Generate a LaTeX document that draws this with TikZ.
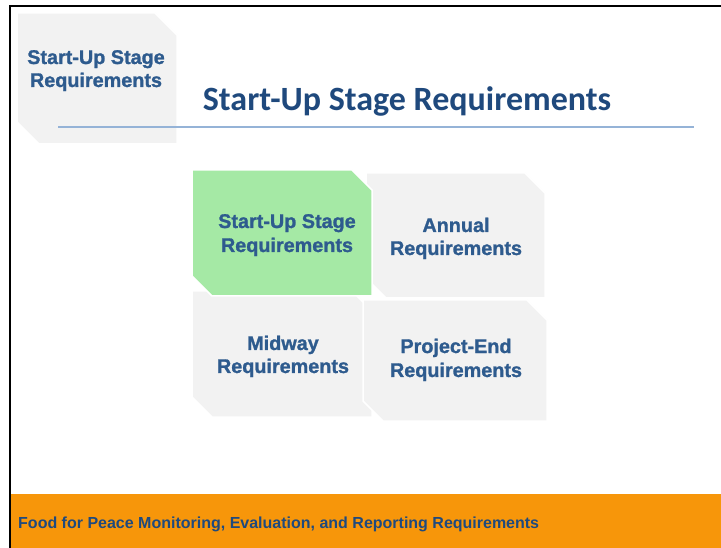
\documentclass[tikz,border=0pt]{standalone}
\usepackage{fontspec}
\newfontfamily\titlefont{Carlito}[BoldFont={Carlito Bold}]
\newfontfamily\boxfont{Liberation Sans}[BoldFeatures={FakeBold=1.2}]
\newfontfamily\footfont{Liberation Sans}
\definecolor{titleblue}{HTML}{1F497D}
\definecolor{boxblue}{HTML}{2E5B8E}
\definecolor{boxgray}{HTML}{F2F2F2}
\definecolor{boxgreen}{HTML}{A5E9A5}
\definecolor{rulecol}{HTML}{95B3D7}
\definecolor{bandorange}{HTML}{F7960A}
\definecolor{footblue}{HTML}{1F4A7E}
\tikzset{
  x=1pt, y=-1pt,
  tile/.style={fill=boxgray, draw=white, line width=1.5pt},
  greentile/.style={fill=boxgreen, draw=white, line width=1.5pt},
  lbl/.style={anchor=base, inner sep=0pt, text=boxblue, font=\boxfont\bfseries\fontsize{19.8}{24}\selectfont},
  titlelbl/.style={anchor=base, inner sep=0pt, text=titleblue, font=\titlefont\bfseries\fontsize{34}{40}\selectfont},
  footlbl/.style={anchor=base west, inner sep=0pt, text=footblue, font=\footfont\bfseries\fontsize{16}{19}\selectfont},
}
\begin{document}
\begin{tikzpicture}
\useasboundingbox (0,0) rectangle (721,548);
\fill[white] (0,0) rectangle (721,548);
% orange band
\fill[bandorange] (10,494) rectangle (721,548);
% frame
\draw[black, line width=2pt] (10,548) -- (10,6) -- (721,6);
% top-left box
\path[tile] (17,13) -- (155,13) -- (177,35) -- (177,144) -- (39,144) -- (17,122) -- cycle;
\node[lbl] (tl1) at (96,64) {Start-Up Stage};
\node[lbl] (tl2) at (96,87) {Requirements};
% title and rule
\node[titlelbl] (title) at (407,111) {Start-Up Stage Requirements};
\draw[rulecol, line width=2pt] (58,127) -- (694,127);
% grid tiles
\path[tile] (192,291) -- (352,291) -- (372,311) -- (372,417) -- (212,417) -- (192,397) -- cycle;
\path[tile] (366,173) -- (525,173) -- (545,193) -- (545,298) -- (386,298) -- (366,278) -- cycle;
\path[tile] (363,300) -- (527,300) -- (547,320) -- (547,421) -- (383,421) -- (363,401) -- cycle;
\path[greentile] (192,170) -- (352,170) -- (372,190) -- (372,296) -- (212,296) -- (192,276) -- cycle;
% tile labels
\node[lbl] (g1) at (287,228) {Start-Up Stage};
\node[lbl] (g2) at (287,252) {Requirements};
\node[lbl] (a1) at (456,232) {Annual};
\node[lbl] (a2) at (456,255) {Requirements};
\node[lbl] (m1) at (283,350) {Midway};
\node[lbl] (m2) at (283,373) {Requirements};
\node[lbl] (p1) at (456,353) {Project-End};
\node[lbl] (p2) at (456,377) {Requirements};
% footer
\node[footlbl] (foot) at (18,528) {Food for Peace Monitoring, Evaluation, and Reporting Requirements};
\end{tikzpicture}
\end{document}
